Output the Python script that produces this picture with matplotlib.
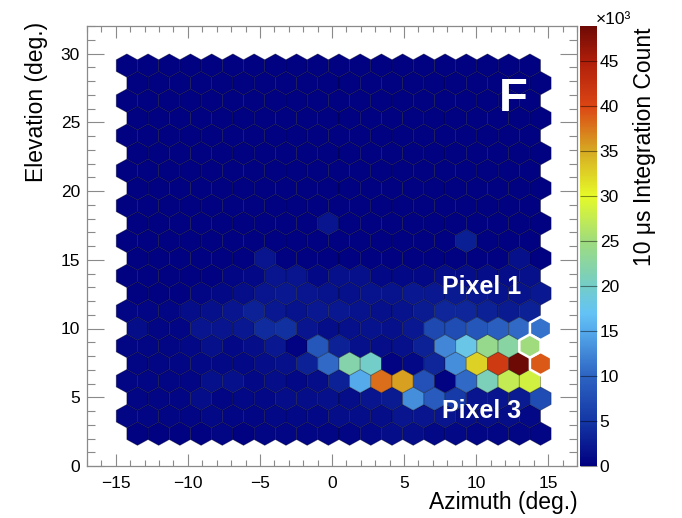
import numpy as np
import matplotlib
matplotlib.use("Agg")
import matplotlib.pyplot as plt
from matplotlib.collections import PolyCollection
from matplotlib.colors import LinearSegmentedColormap, Normalize
from matplotlib.ticker import MultipleLocator

plt.rcParams['font.family'] = ['Liberation Sans', 'DejaVu Sans']

# ---- camera geometry (degrees) ----
pitch = 1.472          # centre-to-centre distance of neighbouring pixels
x_first_odd = -14.235  # x of the first pixel in odd rows (even rows are shifted by pitch/2)
y_first_row = 2.35     # elevation of the bottom row

# ---- 10 us integration counts per pixel, in units of 10^3 (row 21 = top) ----
row21 = [0.2, 0.2, 0.2, 0.2, 0.2, 0.2, 0.2, 0.2, 0.2, 0.2, 0.2, 0.2, 0.2, 0.2, 0.2, 0.2, 0.2, 0.2, 0.2, 0.2]
row20 = [0.2, 0.2, 0.2, 0.2, 0.2, 0.2, 0.2, 0.2, 0.2, 0.2, 0.2, 0.2, 0.2, 0.2, 0.2, 0.2, 0.2, 0.2, 0.2, 0.2]
row19 = [0.2, 0.2, 0.2, 0.2, 0.2, 0.2, 0.2, 0.2, 0.2, 0.2, 0.2, 0.2, 0.2, 0.2, 0.2, 0.2, 0.2, 0.2, 0.2, 0.2]
row18 = [0.2, 0.2, 0.2, 0.2, 0.2, 0.2, 0.2, 0.2, 0.2, 0.2, 0.2, 0.2, 0.2, 0.2, 0.2, 0.2, 0.2, 0.2, 0.2, 0.2]
row17 = [0.2, 0.2, 0.2, 0.2, 0.2, 0.2, 0.2, 0.2, 0.2, 0.2, 0.2, 0.2, 0.2, 0.2, 0.2, 0.2, 0.2, 0.2, 0.2, 0.2]
row16 = [0.2, 0.2, 0.2, 0.2, 0.2, 0.2, 0.2, 0.2, 0.2, 0.2, 0.2, 0.2, 0.2, 0.2, 0.2, 0.2, 0.2, 0.2, 0.2, 0.2]
row15 = [0.2, 0.2, 0.2, 0.2, 0.2, 0.2, 0.2, 0.2, 0.2, 0.2, 0.2, 0.2, 0.2, 0.2, 0.2, 0.2, 0.2, 0.2, 0.2, 0.2]
row14 = [0.2, 0.2, 0.2, 0.2, 0.2, 0.2, 0.2, 0.2, 0.2, 0.2, 0.2, 0.2, 0.2, 0.2, 0.2, 0.2, 0.2, 0.2, 0.2, 0.2]
row13 = [0.2, 0.2, 0.2, 0.2, 0.2, 0.2, 0.2, 0.2, 0.2, 0.2, 0.2, 0.2, 0.2, 0.2, 0.2, 0.2, 0.2, 0.2, 0.2, 0.2]
row12 = [0.2, 0.2, 0.2, 0.2, 0.2, 0.2, 0.2, 0.2, 0.2, 2.0, 0.2, 0.2, 0.2, 0.2, 0.2, 0.2, 0.2, 0.2, 0.2, 0.2]
row11 = [0.2, 0.2, 0.2, 0.2, 0.2, 0.2, 0.2, 0.2, 0.2, 0.2, 0.2, 0.2, 0.2, 0.2, 0.2, 0.2, 2.8, 0.2, 0.2, 0.2]
row10 = [0.2, 0.2, 0.2, 0.2, 0.2, 0.2, 2.0, 0.2, 0.2, 0.2, 0.2, 0.2, 0.2, 0.2, 0.2, 0.2, 0.2, 0.2, 1.5, 0.2]
row09 = [0.2, 0.2, 0.2, 0.2, 0.2, 0.5, 0.8, 2.0, 2.0, 0.8, 1.5, 1.5, 0.8, 0.8, 0.8, 1.2, 1.2, 1.2, 1.2, 1.5]
row08 = [0.2, 0.2, 0.2, 0.5, 0.8, 1.2, 2.0, 2.2, 2.0, 1.8, 1.5, 1.8, 1.8, 2.2, 2.2, 2.5, 2.2, 1.8, 1.8, 2.2]
row07 = [0.5, 0.5, 0.5, 1.2, 1.5, 2.0, 3.0, 2.2, 1.8, 2.2, 2.2, 1.8, 1.5, 1.8, 2.5, 3.5, 3.5, 3.0, 2.5, 3.0]
row06 = [1.2, 0.5, 0.5, 2.0, 2.0, 2.2, 4.0, 4.5, 2.0, 1.2, 1.5, 1.8, 1.5, 2.2, 7.0, 7.5, 8.5, 9.5, 10.5, 11.0]
row05 = [0.5, 0.5, 0.5, 0.8, 1.5, 0.8, 1.2, 2.2, 0.3, 8.5, 3.0, 1.5, 1.2, 1.5, 3.0, 12.5, 18.0, 24.0, 22.5, 25.0]
row04 = [0.5, 0.5, 0.5, 0.8, 0.8, 0.8, 1.2, 1.5, 3.0, 10.5, 22.0, 20.0, 0.3, 0.8, 3.5, 13.0, 32.5, 41.5, 48.9, 39.0]
row03 = [0.5, 0.5, 0.5, 0.5, 1.5, 1.5, 0.8, 1.2, 0.8, 1.2, 3.0, 15.0, 38.0, 35.5, 8.0, 0.3, 10.5, 21.0, 27.5, 28.5]
row02 = [0.5, 0.5, 0.5, 1.2, 0.5, 0.8, 0.8, 1.2, 1.2, 1.5, 1.2, 2.0, 2.5, 13.0, 9.0, 5.5, 2.0, 2.0, 2.5, 7.5]
row01 = [0.5, 0.5, 0.5, 0.5, 0.8, 0.5, 0.5, 0.8, 0.8, 0.8, 1.2, 1.2, 1.2, 2.0, 2.0, 2.0, 1.2, 1.2, 1.2, 0.8]
row00 = [0.2, 0.2, 0.2, 0.2, 0.5, 0.2, 0.5, 0.5, 0.5, 0.5, 0.5, 0.8, 1.2, 1.2, 0.8, 0.8, 0.5, 0.5, 0.5, 0.5]

rows_bottom_up = [row00, row01, row02, row03, row04, row05, row06, row07, row08, row09, row10,
                  row11, row12, row13, row14, row15, row16, row17, row18, row19, row20, row21]

# highlighted pixels (row, column)
highlighted = [(6, 19), (5, 19), (4, 19)]

z_max = 48.9
cbar_ticks = [0, 5, 10, 15, 20, 25, 30, 35, 40, 45]

# palette (value in 10^3 -> colour)
palette_stops = [
    (0.0, (0, 0, 128)),
    (5.0, (20, 55, 165)),
    (10.0, (45, 100, 195)),
    (15.0, (85, 170, 235)),
    (17.0, (100, 195, 245)),
    (20.0, (115, 205, 200)),
    (25.0, (160, 220, 125)),
    (30.0, (230, 250, 40)),
    (35.0, (215, 170, 35)),
    (40.0, (220, 70, 20)),
    (45.0, (175, 30, 10)),
    (48.9, (110, 10, 5)),
]
cmap = LinearSegmentedColormap.from_list(
    "camera", [(v / z_max, tuple(c / 255 for c in rgb)) for v, rgb in palette_stops], N=512)
norm = Normalize(0, z_max)

# ---- build hexagon polygons ----
radius = pitch / np.sqrt(3)
ang = np.deg2rad(np.arange(30, 390, 60))
row_step = pitch * np.sqrt(3) / 2


def hexagon(r, i):
    y = y_first_row + r * row_step
    x0 = x_first_odd if r % 2 == 1 else x_first_odd + pitch / 2
    x = x0 + i * pitch
    return np.column_stack([x + radius * np.cos(ang), y + radius * np.sin(ang)])


verts, vals = [], []
for r, row in enumerate(rows_bottom_up):
    for i, v in enumerate(row):
        verts.append(hexagon(r, i))
        vals.append(v)

fig = plt.figure(figsize=(6.82, 5.18), dpi=100)
ax = fig.add_axes([87 / 682, 1 - 466 / 518, 490 / 682, 440 / 518])
cax = fig.add_axes([580 / 682, 1 - 466 / 518, 17 / 682, 440 / 518])

pc = PolyCollection(verts, array=np.array(vals), cmap=cmap, norm=norm,
                    edgecolors=(0, 0, 0, 0.35), linewidths=0.6)
ax.add_collection(pc)

hl = PolyCollection([hexagon(r, i) for r, i in highlighted], facecolors='none',
                    edgecolors='white', linewidths=1.8)
ax.add_collection(hl)

ax.set_xlim(-17, 17)
ax.set_ylim(0, 32)

frame_grey = '#8a8a8a'
for s in ax.spines.values():
    s.set_color(frame_grey)
    s.set_linewidth(0.9)
ax.xaxis.set_major_locator(MultipleLocator(5))
ax.xaxis.set_minor_locator(MultipleLocator(1))
ax.yaxis.set_major_locator(MultipleLocator(5))
ax.yaxis.set_minor_locator(MultipleLocator(1))
ax.tick_params(which='both', direction='in', top=True, right=True, color=frame_grey,
               labelsize=12.5, width=0.8)
ax.tick_params(axis='x', which='major', length=8.6, pad=7)
ax.tick_params(axis='x', which='minor', length=4.3)
ax.tick_params(axis='y', which='major', length=12.2, pad=5)
ax.tick_params(axis='y', which='minor', length=6.1)

# annotations
ax.text(12.57, 25.8, "F", color='white', fontsize=34, fontweight='bold',
        ha='center', va='baseline')
ax.text(10.35, 12.5, "Pixel 1", color='white', fontsize=18, fontweight='bold',
        ha='center', va='baseline')
ax.text(10.4, 3.5, "Pixel 3", color='white', fontsize=18, fontweight='bold',
        ha='center', va='baseline')

# axis titles
fig.text(578 / 682, 1 - 503 / 518, "Azimuth (deg.)", fontsize=16.5, ha='right', va='center')
fig.text(37 / 682, 1 - 22 / 518, "Elevation (deg.)", fontsize=16.5, rotation=90,
         ha='center', va='top')

# colour bar
cb = fig.colorbar(plt.cm.ScalarMappable(norm=norm, cmap=cmap), cax=cax)
cb.outline.set_visible(False)
cb.set_ticks(cbar_ticks)
cb.set_ticklabels([str(t) for t in cbar_ticks])
cax.tick_params(which='major', direction='in', length=12.2, width=0.8,
                color=(0, 0, 0, 0.45), labelsize=12.5, pad=2)
cax.minorticks_off()
fig.text(596 / 682, 1 - 24 / 518, "×10³", fontsize=12.5, ha='left', va='baseline')
fig.text(644 / 682, 1 - 28 / 518, "10 μs Integration Count", fontsize=16.5, rotation=90,
         ha='center', va='top')

fig.savefig("out.png", dpi=100)
